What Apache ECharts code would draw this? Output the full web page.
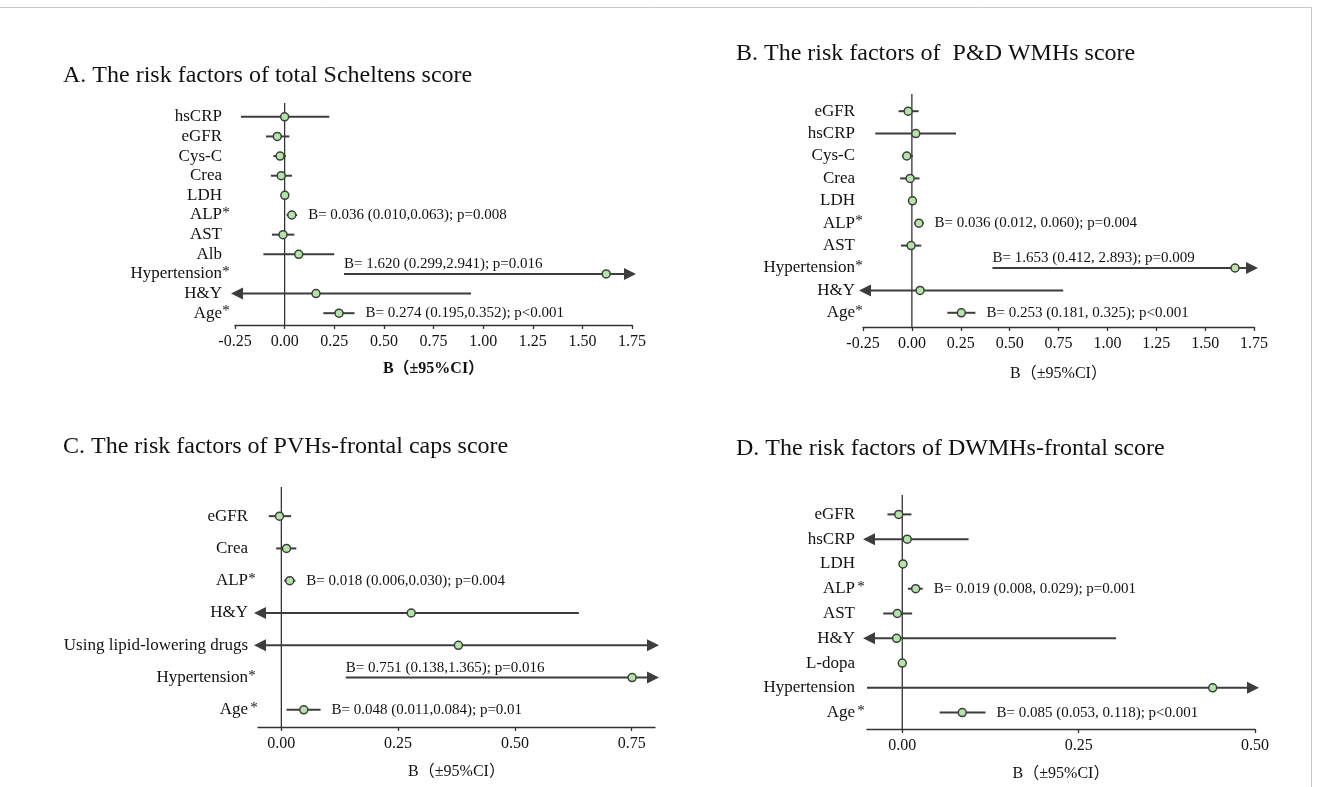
<!DOCTYPE html>
<html><head><meta charset="utf-8">
<script src="https://cdn.jsdelivr.net/npm/echarts@6/dist/echarts.min.js"></script>
<style>html,body{margin:0;padding:0;background:#fff}#chart{width:1319px;height:787px}</style>
</head><body><div id="chart"></div>
<script>
const FONT = "'Liberation Serif','Times New Roman','Noto Sans CJK SC',serif";
const LINE = '#3d3d3d';
const FILL = '#b4e4a8';
const AXIS_NAME = 'B（±95%CI）';

// ---- Panel A ----
const A_title = 'A. The risk factors of total Scheltens score';
const A_factors = ['hsCRP','eGFR','Cys-C','Crea','LDH','ALP','AST','Alb','Hypertension','H&Y','Age'];
const A_stars   = ['','','','','','*','','','*','','*'];
const A_est     = [0.000,-0.037,-0.023,-0.017,0.001,0.036,-0.008,0.071,1.620,0.158,0.274];
const A_lower   = [-0.220,-0.094,-0.057,-0.069,-0.002,0.010,-0.064,-0.107,0.299,-0.623,0.195];
const A_upper   = [0.225,0.024,0.007,0.037,0.004,0.063,0.049,0.250,2.941,0.939,0.352];
const A_notes   = ['','','','','','B= 0.036 (0.010,0.063); p=0.008','','','B= 1.620 (0.299,2.941); p=0.016','','B= 0.274 (0.195,0.352); p<0.001'];
const A_ticks   = [-0.25,0,0.25,0.5,0.75,1,1.25,1.5,1.75];

// ---- Panel B ----
const B_title = 'B. The risk factors of  P&D WMHs score';
const B_factors = ['eGFR','hsCRP','Cys-C','Crea','LDH','ALP','AST','Hypertension','H&Y','Age'];
const B_stars   = ['','','','','','*','','*','','*'];
const B_est     = [-0.019,0.020,-0.026,-0.009,0.003,0.036,-0.004,1.653,0.042,0.253];
const B_lower   = [-0.068,-0.187,-0.051,-0.060,0.000,0.012,-0.056,0.412,-0.690,0.181];
const B_upper   = [0.034,0.226,0.005,0.039,0.006,0.060,0.048,2.893,0.774,0.325];
const B_notes   = ['','','','','','B= 0.036 (0.012, 0.060); p=0.004','','B= 1.653 (0.412, 2.893); p=0.009','','B= 0.253 (0.181, 0.325); p<0.001'];
const B_ticks   = [-0.25,0,0.25,0.5,0.75,1,1.25,1.5,1.75];

// ---- Panel C ----
const C_title = 'C. The risk factors of PVHs-frontal caps score';
const C_factors = ['eGFR','Crea','ALP','H&Y','Using lipid-lowering drugs','Hypertension','Age'];
const C_stars   = ['','','*','','','*',' *'];
const C_est     = [-0.004,0.011,0.018,0.278,0.379,0.751,0.048];
const C_lower   = [-0.027,-0.011,0.006,-0.081,-0.071,0.138,0.011];
const C_upper   = [0.021,0.032,0.030,0.637,0.829,1.365,0.084];
const C_notes   = ['','','B= 0.018 (0.006,0.030); p=0.004','','','B= 0.751 (0.138,1.365); p=0.016','B= 0.048 (0.011,0.084); p=0.01'];
const C_ticks   = [0,0.25,0.5,0.75];

// ---- Panel D ----
const D_title = 'D. The risk factors of DWMHs-frontal score';
const D_factors = ['eGFR','hsCRP','LDH','ALP','AST','H&Y','L-dopa','Hypertension','Age'];
const D_stars   = ['','','',' *','','','','',' *'];
const D_est     = [-0.005,0.007,0.001,0.019,-0.007,-0.008,0.000,0.440,0.085];
const D_lower   = [-0.021,-0.080,0.000,0.008,-0.027,-0.319,-0.001,-0.050,0.053];
const D_upper   = [0.013,0.094,0.002,0.029,0.014,0.303,0.001,0.930,0.118];
const D_notes   = ['','','','B= 0.019 (0.008, 0.029); p=0.001','','','','','B= 0.085 (0.053, 0.118); p<0.001'];
const D_ticks   = [0,0.25,0.5];

const panels = [
  {title:A_title, factors:A_factors, stars:A_stars, est:A_est, lo:A_lower, hi:A_upper, notes:A_notes, ticks:A_ticks,
   min:-0.25, max:1.75, tl:63, tt:64, grid:{left:235, width:397, top:107, height:216}, xOffset:2, zeroExt:4, labelMargin:5, nameGap:36, bold:true},
  {title:B_title, factors:B_factors, stars:B_stars, est:B_est, lo:B_lower, hi:B_upper, notes:B_notes, ticks:B_ticks,
   min:-0.25, max:1.75, tl:736, tt:42, grid:{left:863, width:391, top:100, height:224}, xOffset:3, zeroExt:6, labelMargin:0, nameGap:39, bold:false},
  {title:C_title, factors:C_factors, stars:C_stars, est:C_est, lo:C_lower, hi:C_upper, notes:C_notes, ticks:C_ticks,
   min:-0.05, max:0.8, tl:63, tt:435, grid:{left:258, width:397, top:500, height:226}, xOffset:1, zeroExt:13, labelMargin:2, nameGap:37, bold:false},
  {title:D_title, factors:D_factors, stars:D_stars, est:D_est, lo:D_lower, hi:D_upper, notes:D_notes, ticks:D_ticks,
   min:-0.05, max:0.5, tl:736, tt:437, grid:{left:867, width:388, top:502, height:223}, xOffset:4, zeroExt:7, labelMargin:4, nameGap:37, bold:false}
];

function makeRender(p) {
  return function (params, api) {
    const cat = api.value(0), est = api.value(1), lo = api.value(2), hi = api.value(3);
    const cs = params.coordSys;
    const pe = api.coord([est, cat]);
    const y = pe[1], xe = pe[0];
    let xl = api.coord([lo, cat])[0], xr = api.coord([hi, cat])[0];
    const left = cs.x, right = cs.x + cs.width;
    const children = [];
    if (params.dataIndex === 0) {
      const x0 = api.coord([0, cat])[0];
      children.push({type:'line', shape:{x1:x0, y1:cs.y - p.zeroExt, x2:x0, y2:cs.y + cs.height + p.xOffset},
        style:{stroke:'#333', lineWidth:1.3}});
    }
    const arrowL = xl < left - 0.5, arrowR = xr > right + 0.5;
    const AH = 12, AW = 6, EXT = 4;
    if (arrowL) xl = left - EXT;
    if (arrowR) xr = right + EXT;
    children.push({type:'line', shape:{x1: arrowL ? xl + AH - 1 : xl, y1:y, x2: arrowR ? xr - AH + 1 : xr, y2:y},
      style:{stroke:LINE, lineWidth:2}});
    if (arrowL) children.push({type:'polygon', shape:{points:[[xl,y],[xl+AH,y-AW],[xl+AH,y+AW]]}, style:{fill:LINE}});
    if (arrowR) children.push({type:'polygon', shape:{points:[[xr,y],[xr-AH,y-AW],[xr-AH,y+AW]]}, style:{fill:LINE}});
    children.push({type:'circle', shape:{cx:xe, cy:y, r:4}, style:{fill:FILL, stroke:LINE, lineWidth:1.5}});
    const note = p.notes[params.dataIndex];
    if (note) {
      const ts = {text:note, fill:'#111', fontSize:15, fontFamily:FONT, verticalAlign:'middle', align:'left'};
      if (arrowR) children.push({type:'text', x: api.coord([lo, cat])[0], y: y - 10, style: ts});
      else children.push({type:'text', x: xr + 11, y: y, style: ts});
    }
    return {type:'group', children};
  };
}

const option = {
  backgroundColor:'#fff',
  animation:false,
  textStyle:{fontFamily:FONT},
  title: panels.map(p => ({text:p.title, left:p.tl, top:p.tt, padding:0,
    textStyle:{fontFamily:FONT, fontSize:24, fontWeight:'normal', color:'#111'}})),
  grid: panels.map(p => Object.assign({containLabel:false, outerBoundsMode:'none'}, p.grid)),
  xAxis: panels.map((p, i) => ({
    type:'value', gridIndex:i, min:p.min, max:p.max, offset:p.xOffset,
    splitLine:{show:false},
    axisLine:{show:true, onZero:false, lineStyle:{color:'#333', width:1.3}},
    axisTick:{show:true, length:4, customValues:p.ticks, lineStyle:{color:'#333', width:1.3}},
    axisLabel:{customValues:p.ticks, margin:9, fontSize:16, color:'#111', fontFamily:FONT,
      formatter: v => Number(v).toFixed(2)},
    name:AXIS_NAME, nameLocation:'middle', nameGap:p.nameGap,
    nameTextStyle:{fontSize:16, color:'#111', fontFamily:FONT, fontWeight:p.bold ? 'bold' : 'normal'}
  })),
  yAxis: panels.map((p, i) => ({
    type:'category', gridIndex:i, data:p.factors, inverse:true,
    axisLine:{show:false}, axisTick:{show:false}, splitLine:{show:false},
    axisLabel:{margin:p.labelMargin, interval:0, color:'#111', fontFamily:FONT,
      formatter:(v, idx) => '{n|' + v + '}{s|' + (p.stars[idx] || ' ') + '}',
      rich:{n:{fontSize:17, fontFamily:FONT, color:'#111'},
            s:{fontSize:15, fontFamily:FONT, color:'#111', width:8, align:'left', padding:[0,0,4,0]}}}
  })),
  graphic: [
    {type:'line', shape:{x1:0, y1:7.5, x2:1311.5, y2:7.5}, style:{stroke:'#c8c8c8', lineWidth:1}},
    {type:'line', shape:{x1:1311.5, y1:7.5, x2:1311.5, y2:787}, style:{stroke:'#c8c8c8', lineWidth:1}}
  ],
  series: panels.map((p, i) => ({
    type:'custom', xAxisIndex:i, yAxisIndex:i, clip:false,
    renderItem: makeRender(p),
    encode:{x:[1,2,3], y:0},
    data: p.factors.map((f, k) => [k, p.est[k], p.lo[k], p.hi[k]])
  }))
};

const chart = echarts.init(document.getElementById('chart'), null, {renderer:'canvas'});
chart.setOption(option);
</script>
</body></html>
